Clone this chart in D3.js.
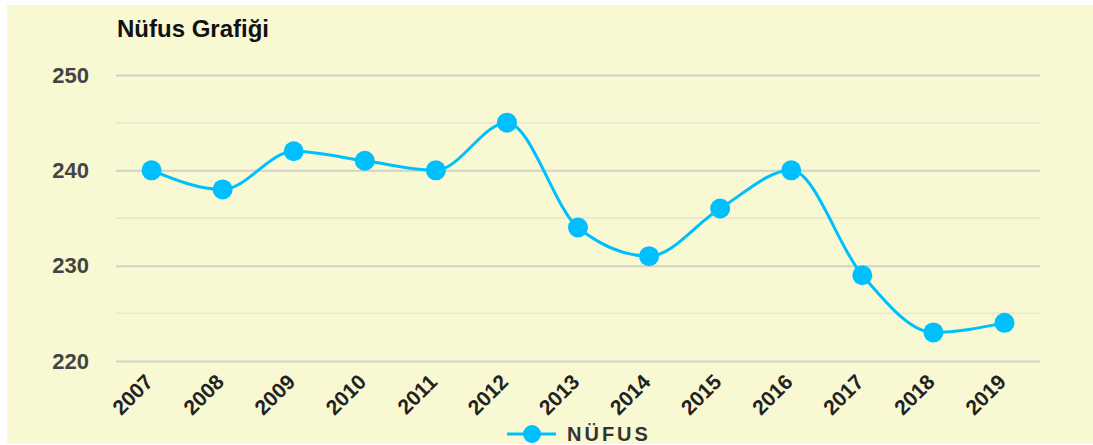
<!DOCTYPE html>
<html><head><meta charset="utf-8">
<script src="https://cdn.jsdelivr.net/npm/d3@7"></script>
<style>html,body{margin:0;padding:0;background:#fff;}svg{display:block;}</style>
</head><body>
<svg id="c" width="1093" height="445"></svg>
<script>
const years = ["2007","2008","2009","2010","2011","2012","2013","2014","2015","2016","2017","2018","2019"];
const values = [240,238,242,241,240,245,234,231,236,240,229,223,224];
const majorTicks = [220,230,240,250];
const minorTicks = [225,235,245];
const title = "Nüfus Grafiği";
const seriesName = "NÜFUS";

(function(){
const svg = d3.select("#c");
const bg = "#f8f8d2", blue = "#00bfff";
const font = "Liberation Sans, Arial, sans-serif";
svg.append("rect").attr("x",7).attr("y",5).attr("width",1086).attr("height",439).attr("fill",bg);

const pL=116, pR=1040, pT=75, pB=361;
const x = d3.scalePoint().domain(years).range([pL,pR]).padding(0.5);
const y = d3.scaleLinear().domain([220,250]).range([pB,pT]);

svg.append("g").selectAll("line").data(minorTicks).join("line")
  .attr("x1",pL).attr("x2",pR).attr("y1",d=>y(d)).attr("y2",d=>y(d))
  .attr("stroke","#e6e6d2").attr("stroke-width",1.5);

const yAxis = svg.append("g").attr("transform",`translate(${pL},0)`)
  .call(d3.axisLeft(y).tickValues(majorTicks).tickSize(-(pR-pL)).tickPadding(27));
yAxis.select(".domain").remove();
yAxis.selectAll(".tick line").attr("stroke","#d2d2c8").attr("stroke-width",2);
yAxis.selectAll(".tick text").attr("font-family",font)
  .attr("font-size",22).attr("font-weight","bold").attr("fill","#444").attr("dy","0.32em");

const xAxis = svg.append("g").attr("transform",`translate(0,${pB})`)
  .call(d3.axisBottom(x).tickSize(0).tickPadding(0));
xAxis.select(".domain").remove();
xAxis.selectAll(".tick text")
  .attr("font-family",font).attr("font-size",21).attr("font-weight","bold")
  .attr("fill","#222").attr("text-anchor","end")
  .attr("transform","translate(-3,17) rotate(-45)").attr("dy","0.35em").attr("y",0);

svg.append("text").attr("x",117).attr("y",37).text(title)
  .attr("font-family",font).attr("font-size",24).attr("font-weight","bold").attr("fill","#111");

const line = d3.line().x((d,i)=>x(years[i])).y(d=>y(d)).curve(d3.curveMonotoneX);
svg.append("path").datum(values).attr("d",line).attr("fill","none").attr("stroke",blue).attr("stroke-width",3);
svg.append("g").selectAll("circle").data(values).join("circle")
  .attr("cx",(d,i)=>x(years[i])).attr("cy",d=>y(d)).attr("r",10).attr("fill",blue);

const lg = svg.append("g");
lg.append("line").attr("x1",507).attr("x2",556).attr("y1",434).attr("y2",434).attr("stroke",blue).attr("stroke-width",3);
lg.append("circle").attr("cx",532).attr("cy",434).attr("r",9).attr("fill",blue);
lg.append("text").attr("x",567).attr("y",441).text(seriesName)
  .attr("font-family",font).attr("font-size",20).attr("font-weight","bold")
  .attr("letter-spacing",3).attr("fill","#333");
})();
</script>
</body></html>
